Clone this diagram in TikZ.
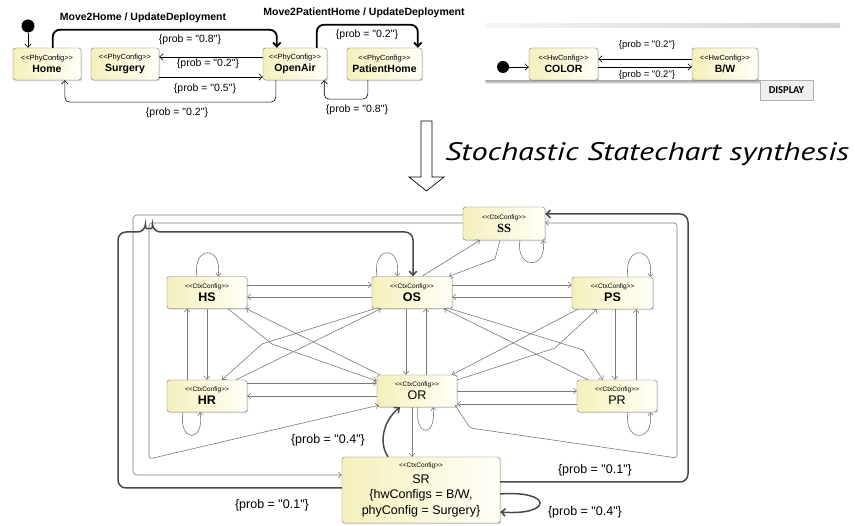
\documentclass[tikz,border=0pt]{standalone}
\usepackage{fontspec}
\newfontfamily\uml{Liberation Sans}
\newfontfamily\umlserif{Liberation Serif}
\newfontfamily\notefont{Carlito}
\newfontfamily\handfont{PT Sans}
\usetikzlibrary{arrows.meta,shadows}

\definecolor{boxy}{HTML}{F5F0BC}
\definecolor{boxw}{HTML}{FFFFF7}
\definecolor{edgegray}{HTML}{7A7A7A}
\definecolor{edgedark}{HTML}{484848}

\newcommand\stereo[2]{{\mdseries\fontsize{#1}{#1}\selectfont<<#2>>}}

\begin{document}
\begin{tikzpicture}[x=1pt,y=-1pt,
  every node/.style={font=\uml},
  state/.style={draw=black!55, rounded corners=2.5pt, left color=boxy, right color=boxw,
    inner sep=0pt, align=center,
    drop shadow={opacity=0.3, shadow xshift=1.2pt, shadow yshift=-1.2pt}},
  phy/.style={state, minimum height=32pt, font=\uml\fontsize{10.5}{12.5}\selectfont\bfseries},
  ctx/.style={state, minimum width=80pt, minimum height=32pt, font=\uml\fontsize{12.5}{13}\selectfont},
  dot/.style={circle, fill=black, minimum size=13pt, inner sep=0pt},
  lbl/.style={inner sep=0pt, font=\uml\fontsize{10.5}{12}\selectfont},
  trig/.style={inner sep=0pt, font=\uml\fontsize{10.5}{12}\selectfont\bfseries},
  biglbl/.style={inner sep=0pt, font=\uml\fontsize{12.5}{14}\selectfont},
  toparr/.style={draw=black, line width=0.6pt, -{Straight Barb[length=3.5pt,width=6.5pt]}},
  topbig/.style={draw=black, line width=1.8pt, -{Straight Barb[length=4pt,width=7.5pt]}},
  arr/.style={draw=edgegray, line width=0.6pt, -{Straight Barb[length=3pt,width=5.5pt]}},
  bigarr/.style={draw=edgedark, line width=1.5pt, -{Straight Barb[length=4pt,width=7.5pt]}}]

\useasboundingbox (0,0) rectangle (855,526);
\fill[white] (0,0) rectangle (855,526);

% ---------- physical configuration statechart ----------
\node[dot] (i1) at (28,26) {};
\node[phy, minimum width=68pt] (home) at (47,64) {\stereo{7.5}{PhyConfig}\\Home};
\node[phy, minimum width=68pt] (surg) at (125,64) {\stereo{7.5}{PhyConfig}\\Surgery};
\node[phy, minimum width=64pt] (oa) at (295,64) {\stereo{7.5}{PhyConfig}\\OpenAir};
\node[phy, minimum width=75pt] (ph) at (384.5,64) {\stereo{7.5}{PhyConfig}\\PatientHome};

\draw[toparr] (i1) -- (i1 |- home.north);
\draw[topbig, rounded corners=7pt] ([xshift=40pt]home.north west) -- ++(0,-18) -| ([xshift=14pt]oa.north west);
\draw[toparr] ([yshift=7pt]oa.west) -- ([yshift=7pt]surg.east);
\draw[toparr] ([yshift=-13pt]surg.east) -- ([yshift=-13pt]oa.west);
\draw[toparr, rounded corners=5pt] ([xshift=13pt]oa.south west) -- ++(0,22) -| ([xshift=52pt]home.south west);
\draw[topbig, rounded corners=7pt] ([xshift=54pt]oa.north west) -- ++(0,-23) -| ([xshift=71pt]ph.north west);
\draw[toparr, rounded corners=5pt] ([xshift=21pt]ph.south west) -- ++(0,19) -| ([xshift=-3pt]oa.south east);

\node[trig] (t1) at (143,18) {Move2Home / UpdateDeployment};
\node[trig] (t2) at (364,13) {Move2PatientHome / UpdateDeployment};
\node[lbl] (l1) at (190,40) {\{prob = "0.8"\}};
\node[lbl] (l2) at (208,64) {\{prob = "0.2"\}};
\node[lbl] (l3) at (205,89) {\{prob = "0.5"\}};
\node[lbl] (l4) at (177,113) {\{prob = "0.2"\}};
\node[lbl] (l5) at (367,35) {\{prob = "0.2"\}};
\node[lbl] (l6) at (357,110) {\{prob = "0.8"\}};

% ---------- display hardware statechart ----------
\shade[left color=gray!8, right color=gray!35] (485,24) rectangle (840,27.5);
\foreach \i in {0,...,6}
  \fill[black, opacity=0.08] (483+0.5*\i,30) rectangle (765-0.5*\i,79.5+0.8*\i);
\fill[white] (483,28) rectangle (765,80);
\node[dot, minimum size=12pt] (i2) at (503,67) {};
\node[phy, minimum width=69pt] (color) at (563.5,64) {\stereo{7.5}{HwConfig}\\COLOR};
\node[phy, minimum width=66pt] (bw) at (725,64) {\stereo{7.5}{HwConfig}\\B/W};
\draw[toparr] (i2) -- (i2 -| color.west);
\draw[toparr] ([yshift=5pt]bw.west) -- ([yshift=5pt]color.east);
\draw[toparr] ([yshift=-3pt]color.east) -- ([yshift=-3pt]bw.west);
\node[lbl, font=\uml\fontsize{9.5}{11}\selectfont] (l7) at (647,45) {\{prob = "0.2"\}};
\node[lbl, font=\uml\fontsize{9.5}{11}\selectfont] (l8) at (647,75) {\{prob = "0.2"\}};
\node[draw=gray!60, fill=gray!12, minimum width=53pt, minimum height=20pt, inner sep=0pt,
  font=\notefont\fontsize{10.5}{12}\selectfont\bfseries] (disp) at (786.5,90) {DISPLAY};

% ---------- synthesis arrow ----------
\draw[line width=0.7pt, fill=white] (421,121) -- (432,121) -- (432,177) -- (444,177)
  -- (426.5,191) -- (409,177) -- (421,177) -- cycle;
\node[anchor=base west, inner sep=0pt] (synth) at (445,161)
  {\resizebox{404pt}{18pt}{\handfont\itshape Stochastic Statechart synthesis}};

% ---------- synthesized stochastic statechart ----------
\node[ctx, minimum width=82pt, minimum height=33pt] (ss) at (504,223.5) {\stereo{6.5}{CtxConfig}\\{\umlserif\bfseries SS}};
\node[ctx] (hs) at (207,292.5) {\stereo{6.5}{CtxConfig}\\\bfseries HS};
\node[ctx] (os) at (412,292.5) {\stereo{6.5}{CtxConfig}\\\bfseries OS};
\node[ctx, minimum width=81pt] (ps) at (612.5,293) {\stereo{6.5}{CtxConfig}\\\bfseries PS};
\node[ctx] (hr) at (207,396) {\stereo{6.5}{CtxConfig}\\\bfseries HR};
\node[ctx] (or) at (417,391) {\stereo{6.5}{CtxConfig}\\OR};
\node[ctx] (pr) at (617,396) {\stereo{6.5}{CtxConfig}\\PR};
\node[ctx, minimum width=158pt, minimum height=66pt, font=\uml\fontsize{12.5}{15.5}\selectfont] (sr) at (421,490)
  {\stereo{6.5}{CtxConfig}\\SR\\\{hwConfigs = B/W,\\phyConfig = Surgery\}};

% horizontal pairs
\draw[arr] (hs.east |- 0,285) -- (os.west |- 0,285);
\draw[arr] (os.west |- 0,297) -- (hs.east |- 0,297);
\draw[arr] (os.east |- 0,285) -- (ps.west |- 0,285);
\draw[arr] (ps.west |- 0,297) -- (os.east |- 0,297);
\draw[arr] (hr.east |- 0,383) -- (or.west |- 0,383);
\draw[arr] (or.west |- 0,396) -- (hr.east |- 0,396);
\draw[arr] (or.east |- 0,391) -- (pr.west |- 0,391);
\draw[arr] (pr.west |- 0,404) -- (or.east |- 0,404);

% vertical pairs
\draw[arr] (hr.north -| 187,0) -- (hs.south -| 187,0);
\draw[arr] (hs.south -| 207,0) -- (hr.north -| 207,0);
\draw[arr] (os.south -| 406,0) -- (or.north -| 406,0);
\draw[arr] (or.north -| 426,0) -- (os.south -| 426,0);
\draw[arr] (ps.south -| 615,0) -- (pr.north -| 615,0);
\draw[arr] (pr.north -| 636,0) -- (ps.south -| 636,0);
\draw[arr] (or.south -| 412,0) -- (sr.north -| 412,0);

% diagonals
\draw[arr] (hs.south -| 228,0) -- (272,344) -- (or.west |- 0,381);
\draw[arr] ([xshift=3pt]or.north west) -- ([xshift=-1pt]hs.south east);
\draw[arr] (os.south -| 375,0) -- (262,344) -- (hr.north -| 222,0);
\draw[arr] (hr.north -| 236,0) -- (os.south -| 381,0);
\draw[arr] ([xshift=-2pt]os.south east) -- (583,350) -- (pr.north -| 603,0);
\draw[arr] (pr.north -| 588,0) -- (os.south -| 444,0);
\draw[arr] (ps.south -| 578,0) -- (or.north -| 452,0);
\draw[arr] (or.east |- 0,380) -- (555,348) -- (ps.south -| 597,0);

% SS and OS
\draw[arr] (os.north -| 422,0) -- (ss.south -| 480,0);
\draw[arr] (ss.south -| 500,0) -- (495,259) -- (os.north -| 449,0);

% self loops
\draw[arr] (hs.north -| 197,0) .. controls (192,245) and (223,245) .. (hs.north -| 218,0);
\draw[arr] (os.north -| 377,0) .. controls (372,245) and (402,245) .. (os.north -| 397,0);
\draw[arr] (ps.north -| 628,0) .. controls (623,245) and (655,245) .. (ps.north -| 650,0);
\draw[arr] (ss.south -| 520,0) .. controls (515,270) and (548,270) .. (ss.south -| 543,0);
\draw[arr] (hr.south -| 183,0) .. controls (178,443) and (205,443) .. (hr.south -| 200,0);
\draw[arr] (pr.south -| 628,0) .. controls (623,443) and (655,443) .. (pr.south -| 650,0);
\draw[arr] (or.south -| 418,0) .. controls (414,438) and (437,438) .. (or.south -| 433,0);
\draw[bigarr] (sr.east |- 0,494) .. controls (553,490) and (553,516) .. (sr.east |- 0,512);

% outer routes
\draw[arr, rounded corners=4pt] (ss.west |- 0,215) -- (133,215) -- (133,475) -- (sr.west |- 0,475);
\draw[arr, rounded corners=3pt] (ss.west |- 0,223) -- (149,223) -- (149,459) -- ([xshift=2pt,yshift=2pt]or.south west);
\draw[bigarr, rounded corners=8pt] (sr.west |- 0,488) -- (118,488) -- (118,232) -- (145.5,232)
  arc[start angle=180, end angle=360, radius=3.5] -- (413,232) -- (os.north -| 413,0);
\draw[bigarr, rounded corners=8pt] (sr.east |- 0,482) -- (688,482) -- (688,214) -- (ss.east |- 0,214);
\draw[arr, rounded corners=3pt] ([xshift=-2pt,yshift=2pt]or.south east) -- (470,428) -- (677,458) -- (677,223) -- (ss.east |- 0,223);
\draw[bigarr] (sr.north -| 388,0) .. controls (378,442) and (384,420) .. (or.south -| 400,0);

\node[biglbl] (q1) at (328,440) {\{prob = "0.4"\}};
\node[biglbl] (q2) at (272,505) {\{prob = "0.1"\}};
\node[biglbl] (q3) at (595,470) {\{prob = "0.1"\}};
\node[biglbl] (q4) at (585,512) {\{prob = "0.4"\}};
\end{tikzpicture}
\end{document}
